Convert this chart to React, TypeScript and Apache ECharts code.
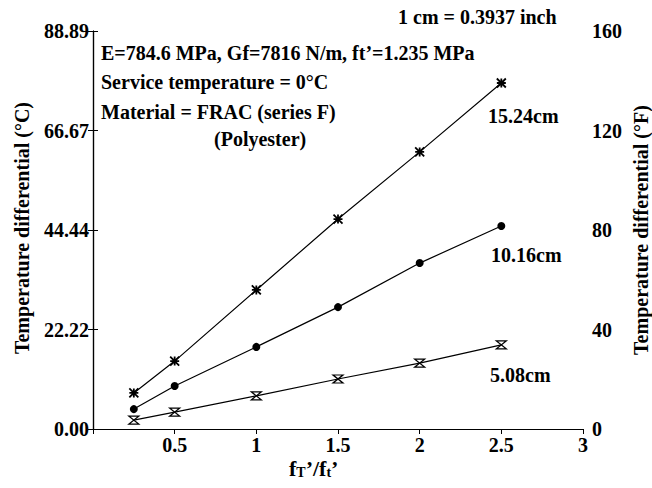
import React, { useEffect, useRef } from "react";
import * as echarts from "echarts";

const ratios = [0.25, 0.5, 1, 1.5, 2, 2.5];
// Temperature differential in °F (right axis)
const s1524 = [14.5, 27.3, 55.9, 84.4, 111.4, 139.1];
const s1016 = [8.0, 17.3, 33.0, 49.0, 66.7, 81.6];
const s508 = [3.6, 6.8, 13.3, 20.1, 26.5, 33.8];
const seriesNames = ["15.24cm", "10.16cm", "5.08cm"];
const xTicks = ["0.5", "1", "1.5", "2", "2.5", "3"];
const notes = [
  "E=784.6 MPa, Gf=7816 N/m, ft\u2019=1.235 MPa",
  "Service temperature = 0\u00B0C",
  "Material = FRAC (series F)",
  "(Polyester)",
];
const unitNote = "1 cm = 0.3937 inch";
const leftTitle = "Temperature differential (\u00B0C)";
const rightTitle = "Temperature differential (\u00B0F)";

const FONT = "Liberation Serif";

export default function App() {
  const ref = useRef<HTMLDivElement>(null);
  useEffect(() => {
    if (!ref.current) return;
    const chart = echarts.init(ref.current, null, { renderer: "svg" });
    const mk = (d: number[]) => d.map((v, i) => [ratios[i], v]);
    const endLabel = (d: number[], name: string, off: number[]) =>
      mk(d).map((p, i) =>
        i === d.length - 1
          ? {
              value: p,
              label: {
                show: true,
                formatter: name,
                position: "inside",
                offset: off,
                color: "#000",
                fontFamily: FONT,
                fontWeight: "bold",
                fontSize: 20,
              },
            }
          : p
      );
    const axisTxt = { color: "#000", fontFamily: FONT, fontWeight: "bold", fontSize: 20 };
    const font = `bold 20px "${FONT}"`;
    const note = (text: string, x: number, y: number) => ({
      type: "text",
      x,
      y,
      style: { text, fill: "#000", font, textVerticalAlign: "middle" },
    });
    chart.setOption({
      animation: false,
      backgroundColor: "#fff",
      grid: { left: 93, right: 69, top: 31, bottom: 59 },
      xAxis: [
        {
          type: "value",
          min: 0,
          max: 3,
          interval: 0.5,
          splitLine: { show: false },
          axisLine: { lineStyle: { color: "#000", width: 1.2 } },
          axisTick: { show: true, length: 5, lineStyle: { color: "#000" } },
          axisLabel: {
            ...axisTxt,
            margin: 6,
            formatter: (v: number) => (v === 0 ? "" : xTicks[Math.round(v / 0.5) - 1] ?? ""),
          },
        },
        {
          type: "value",
          position: "top",
          min: 0,
          max: 3,
          splitLine: { show: false },
          axisLine: { show: true, lineStyle: { color: "#000", width: 1.2 } },
          axisTick: { show: false },
          axisLabel: { show: false },
        },
      ],
      yAxis: [
        {
          type: "value",
          min: 0,
          max: 800 / 9,
          interval: 200 / 9,
          position: "left",
          splitLine: { show: false },
          axisLine: { show: true, lineStyle: { color: "#000", width: 1.2 } },
          axisTick: { show: true, length: 5, lineStyle: { color: "#000" } },
          axisLabel: { ...axisTxt, margin: 4, formatter: (v: number) => v.toFixed(2) },
        },
        {
          type: "value",
          min: 0,
          max: 160,
          interval: 40,
          position: "right",
          splitLine: { show: false },
          axisLine: { show: true, lineStyle: { color: "#000", width: 1.2 } },
          axisTick: { show: true, length: 5, lineStyle: { color: "#000" } },
          axisLabel: { ...axisTxt, margin: 9 },
        },
      ],
      series: [
        {
          name: seriesNames[0],
          type: "line",
          yAxisIndex: 1,
          data: endLabel(s1524, seriesNames[0], [22, 33]),
          symbol: "path://M0,0 L10,10 M10,0 L0,10 M5,0 L5,10 M0,5 L10,5",
          symbolSize: 9,
          lineStyle: { color: "#000", width: 1.2 },
          itemStyle: { color: "#000", borderColor: "#000", borderWidth: 1.8 },
        },
        {
          name: seriesNames[1],
          type: "line",
          yAxisIndex: 1,
          data: endLabel(s1016, seriesNames[1], [25, 29]),
          symbol: "circle",
          symbolSize: 8,
          lineStyle: { color: "#000", width: 1.2 },
          itemStyle: { color: "#000" },
        },
        {
          name: seriesNames[2],
          type: "line",
          yAxisIndex: 1,
          data: endLabel(s508, seriesNames[2], [19, 30]),
          symbol: "path://M0,0 L10,0 L0,9 L10,9 Z",
          symbolSize: [10, 8],
          lineStyle: { color: "#000", width: 1.2 },
          itemStyle: { color: "#fff", borderColor: "#000", borderWidth: 1.3 },
        },
      ],
      graphic: [
        note(notes[0], 101, 53),
        note(notes[1], 101, 82),
        note(notes[2], 101, 112),
        note(notes[3], 214, 139),
        note(unitNote, 398, 17),
        {
          type: "text",
          x: 22,
          y: 228,
          rotation: Math.PI / 2,
          style: { text: leftTitle, fill: "#000", font, textAlign: "center", textVerticalAlign: "middle" },
        },
        {
          type: "text",
          x: 641,
          y: 230,
          rotation: Math.PI / 2,
          style: { text: rightTitle, fill: "#000", font, textAlign: "center", textVerticalAlign: "middle" },
        },
        {
          type: "text",
          x: 289,
          y: 457,
          style: {
            text: "{n|f}{s|T}{n|\u2019/f}{s|t}{n|\u2019}",
            rich: {
              n: { fontFamily: FONT, fontWeight: "bold", fontSize: 22, fill: "#000", verticalAlign: "top", lineHeight: 22 },
              s: { fontFamily: FONT, fontWeight: "bold", fontSize: 14, fill: "#000", verticalAlign: "bottom", lineHeight: 14, padding: [12, 0, 0, 0] },
            },
          },
        },
      ],
    });
    return () => chart.dispose();
  }, []);
  return <div ref={ref} style={{ position: "absolute", left: 0, top: 0, width: 652, height: 488 }} />;
}
